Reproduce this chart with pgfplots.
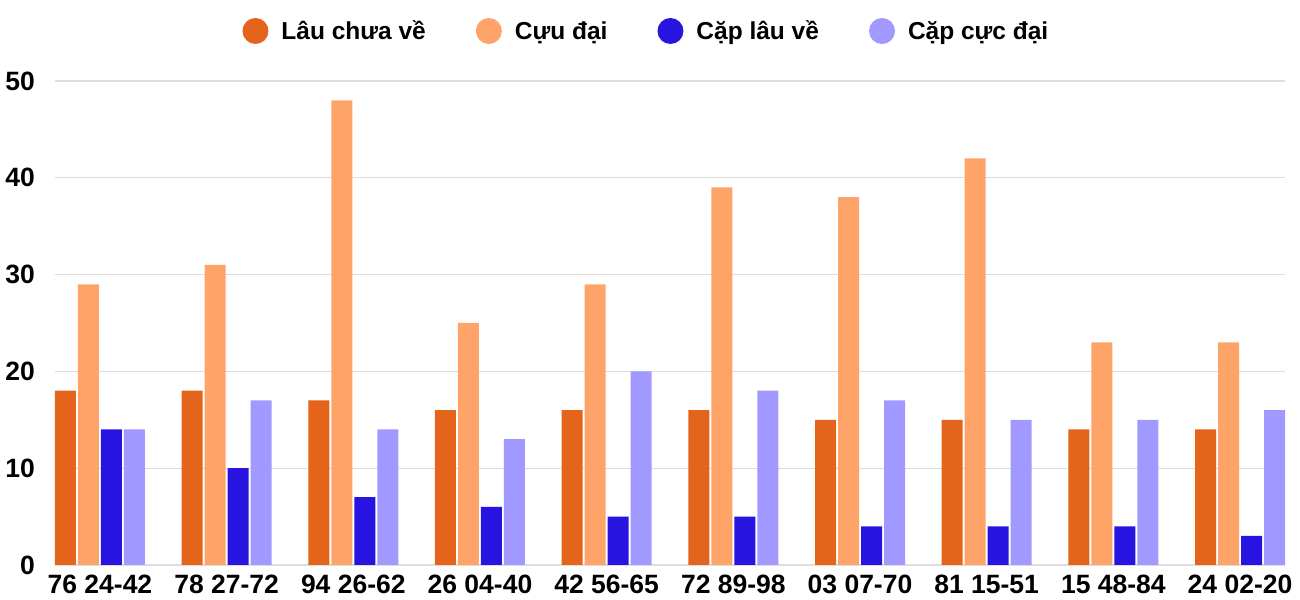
\documentclass[border=0pt]{standalone}
\usepackage{fontspec}
\setmainfont{Liberation Sans}
\usepackage{pgfplots}
\pgfplotsset{compat=1.18}
\definecolor{cA}{HTML}{E3641A}
\definecolor{cB}{HTML}{FFA468}
\definecolor{cC}{HTML}{2714E0}
\definecolor{cD}{HTML}{A199FF}
\definecolor{gridc}{HTML}{DDDDDD}
\begin{document}
\begin{tikzpicture}
\begin{axis}[
  scale only axis,
  width=1230bp, height=484bp,
  ybar=2bp, bar width=21bp,
  xmin=-0.355, xmax=9.355,
  ymin=0, ymax=50,
  ytick={0,10,20,30,40,50},
  xtick=data,
  xticklabels={76 24-42,78 27-72,94 26-62,26 04-40,42 56-65,72 89-98,03 07-70,81 15-51,15 48-84,24 02-20},
  major tick length=0pt,
  axis line style={draw=none},
  ymajorgrids,
  grid style={gridc, line width=1.2bp},
  /pgf/number format/assume math mode=true,
  tick label style={font=\bfseries\fontsize{26.5bp}{30bp}\selectfont, inner sep=0pt},
  yticklabel style={anchor=east, xshift=-20bp},
  xticklabel style={anchor=north, yshift=-10bp},
  legend columns=4,
  legend style={draw=none, fill=none, at={(0.48,1)}, anchor=center, yshift=50bp,
    font=\bfseries\fontsize{24.5bp}{28bp}\selectfont,
    /tikz/every odd column/.append style={column sep=13bp},
    /tikz/every even column/.append style={column sep=50bp},
    nodes={inner sep=0pt, anchor=west}},
  legend image code/.code={\fill[#1] (13bp,0bp) circle (13bp);},
]
\addplot[fill=cA, draw=none] coordinates {(0,18) (1,18) (2,17) (3,16) (4,16) (5,16) (6,15) (7,15) (8,14) (9,14)};
\addplot[fill=cB, draw=none] coordinates {(0,29) (1,31) (2,48) (3,25) (4,29) (5,39) (6,38) (7,42) (8,23) (9,23)};
\addplot[fill=cC, draw=none] coordinates {(0,14) (1,10) (2,7) (3,6) (4,5) (5,5) (6,4) (7,4) (8,4) (9,3)};
\addplot[fill=cD, draw=none] coordinates {(0,14) (1,17) (2,14) (3,13) (4,20) (5,18) (6,17) (7,15) (8,15) (9,16)};
\legend{Lâu chưa về, Cựu đại, Cặp lâu về, Cặp cực đại}
\end{axis}
\pgfresetboundingbox
\path ([xshift=-55bp,yshift=-35bp]current axis.south west) rectangle ([xshift=15bp,yshift=81bp]current axis.north east);
\end{tikzpicture}
\end{document}
